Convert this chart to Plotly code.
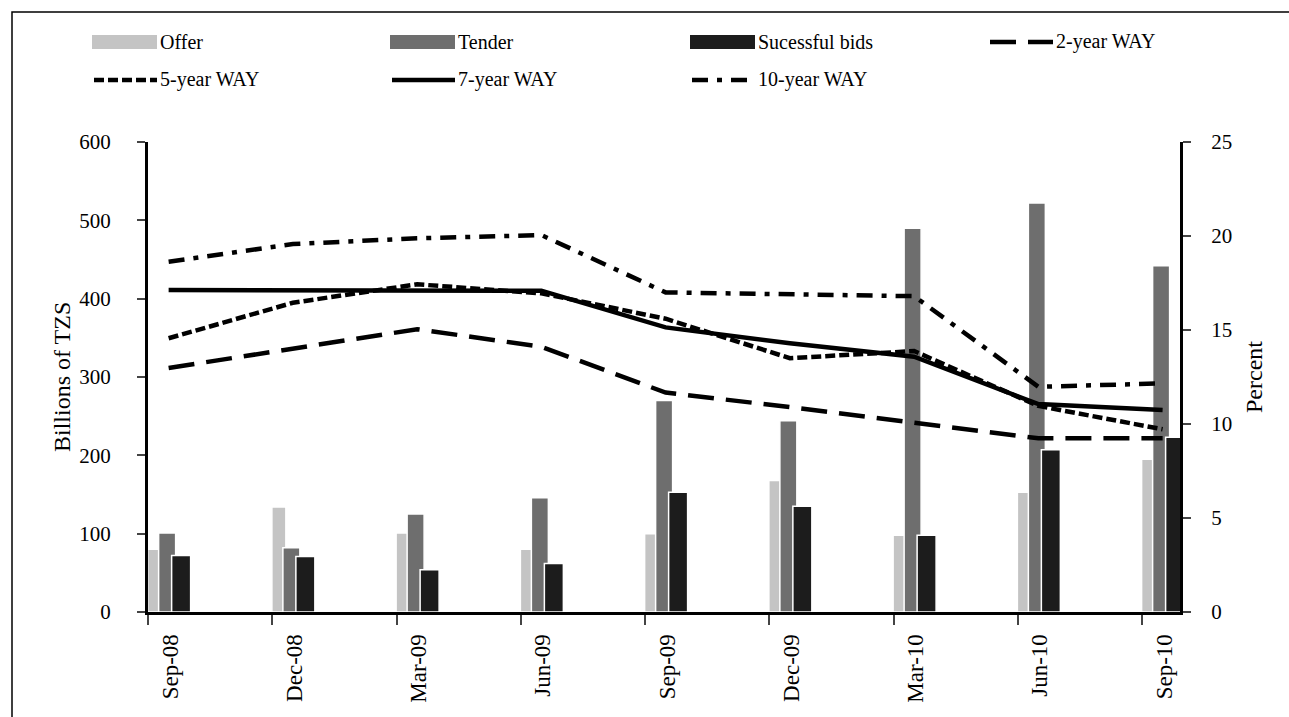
"""Offer, tender and successful bids vs weighted average yields (WAY)."""
import plotly.graph_objects as go

periods = ['Sep-08', 'Dec-08', 'Mar-09', 'Jun-09', 'Sep-09',
           'Dec-09', 'Mar-10', 'Jun-10', 'Sep-10']
offer = [80, 134, 101, 80, 100, 168, 98, 153, 195]
tender = [101, 82, 125, 146, 270, 244, 490, 522, 442]
successful = [72, 71, 54, 62, 153, 135, 98, 207, 223]
way_2y = [12.98, 14.03, 15.04, 14.11, 11.67, 10.9, 10.04, 9.24, 9.24]
way_5y = [14.56, 16.45, 17.43, 16.95, 15.6, 13.5, 13.88, 10.96, 9.72]
way_7y = [17.13, 17.13, 17.13, 17.09, 15.14, 14.29, 13.58, 11.06, 10.74]
way_10y = [18.63, 19.57, 19.88, 20.05, 17.0, 16.9, 16.8, 11.98, 12.16]

FONT = 'Liberation Serif'
W, H = 1289, 717
PL, PR, PT, PB = 148, 1180, 142, 612   # plot area in pixels
X_RANGE = [-0.166, 8.14]
PX_UNIT = (PR - PL) / (X_RANGE[1] - X_RANGE[0])

GREY_L, GREY_M, GREY_D = '#c4c4c4', '#6e6e6e', '#1c1c1c'
DASH_2Y = '26px,12px'
DASH_5Y = '10px,4px'
DASH_10Y = '16px,9px,5px,9px'


def px_x(px):
    return (px - PL) / (PR - PL)


def px_y(py):
    return (PB - py) / (PB - PT)


xs = list(range(len(periods)))
fig = go.Figure()

# bars: offsets/widths are in category units in px
bar_specs = [
    ('Offer', offer, GREY_L, -21, 14),
    ('Tender', tender, GREY_M, -10, 17),
    ('Sucessful bids', successful, GREY_D, 3, 19),
]
for name, vals, col, off, wid in bar_specs:
    fig.add_trace(go.Bar(
        x=xs, y=vals, name=name,
        offset=off / PX_UNIT, width=wid / PX_UNIT,
        marker=dict(color=col, line=dict(color='white', width=1.5)),
        yaxis='y', showlegend=False,
        hovertemplate=f'<b>{name}</b><br>%{{y:,.0f}}<extra></extra>',
    ))

line_specs = [
    ('2-year WAY', way_2y, DASH_2Y),
    ('5-year WAY', way_5y, DASH_5Y),
    ('7-year WAY', way_7y, 'solid'),
    ('10-year WAY', way_10y, DASH_10Y),
]
for name, vals, dash in line_specs:
    fig.add_trace(go.Scatter(
        x=xs, y=vals, name=name, mode='lines', yaxis='y2',
        line=dict(color='black', width=4.5, dash=dash),
        showlegend=False,
        hovertemplate=f'<b>{name}</b><br>%{{y:.2f}}%<extra></extra>',
    ))

# hand-made legend so symbols get the wide look of the original
shapes = [dict(type='rect', xref='paper', yref='paper', layer='below',
               x0=px_x(12), x1=px_x(W + 20), y0=px_y(H + 20), y1=px_y(12),
               line=dict(color='black', width=1.5), fillcolor='rgba(0,0,0,0)')]
annotations = []
legend_items = [
    ('Offer', 'bar', GREY_L, 92, 42),
    ('Tender', 'bar', GREY_M, 390, 42),
    ('Sucessful bids', 'bar', GREY_D, 690, 42),
    ('2-year WAY', 'line', DASH_2Y, 988, 42),
    ('5-year WAY', 'line', DASH_5Y, 92, 80),
    ('7-year WAY', 'line', 'solid', 390, 80),
    ('10-year WAY', 'line', DASH_10Y, 690, 80),
]
for text, kind, style, x0, yc in legend_items:
    if kind == 'bar':
        shapes.append(dict(type='rect', xref='paper', yref='paper',
                           x0=px_x(x0), x1=px_x(x0 + 65),
                           y0=px_y(yc + 7), y1=px_y(yc - 7),
                           fillcolor=style, line=dict(width=0)))
    else:
        shapes.append(dict(type='line', xref='paper', yref='paper',
                           x0=px_x(x0 + 2), x1=px_x(x0 + 65),
                           y0=px_y(yc), y1=px_y(yc),
                           line=dict(color='black', width=4.5, dash=style)))
    annotations.append(dict(text=text, xref='paper', yref='paper',
                            x=px_x(x0 + 66), y=px_y(yc), xanchor='left',
                            yanchor='middle', showarrow=False,
                            font=dict(family=FONT, size=20, color='black')))

annotations += [
    dict(text='Billions of TZS', xref='paper', yref='paper', x=px_x(62),
         y=px_y(377), textangle=-90, showarrow=False,
         xanchor='center', yanchor='middle',
         font=dict(family=FONT, size=24, color='black')),
    dict(text='Percent', xref='paper', yref='paper', x=px_x(1254),
         y=px_y(377), textangle=-90, showarrow=False,
         xanchor='center', yanchor='middle',
         font=dict(family=FONT, size=24, color='black')),
]

fig.update_layout(
    width=W, height=H,
    margin=dict(l=PL, r=W - PR, t=PT, b=H - PB),
    paper_bgcolor='white', plot_bgcolor='white',
    barmode='overlay', showlegend=False,
    font=dict(family=FONT, color='black'),
    xaxis=dict(range=X_RANGE, tickvals=[i - 0.165 for i in xs],
               ticktext=periods, tickangle=-90, ticklabelshift=22,
               ticks='outside', ticklen=10, tickwidth=2,
               showline=True, linecolor='black', linewidth=3,
               showgrid=False, zeroline=False,
               tickfont=dict(family=FONT, size=23)),
    yaxis=dict(range=[0, 600], dtick=100, ticks='outside', ticklen=8,
               tickwidth=2, showline=True, linecolor='black', linewidth=3,
               showgrid=False, zeroline=False, ticklabelstandoff=22,
               tickfont=dict(family=FONT, size=21)),
    yaxis2=dict(range=[0, 25], dtick=5, overlaying='y', side='right',
                ticks='outside', ticklen=8, tickwidth=2, showline=True,
                linecolor='black', linewidth=3, showgrid=False,
                zeroline=False, ticklabelstandoff=16,
                tickfont=dict(family=FONT, size=21)),
    shapes=shapes, annotations=annotations,
)

# the page's default body margin would push the figure 8px down and right
fig.write_html('out.html', config={'displayModeBar': False},
               post_script="document.body.style.margin='0';"
                           "document.body.style.overflow='hidden';")
